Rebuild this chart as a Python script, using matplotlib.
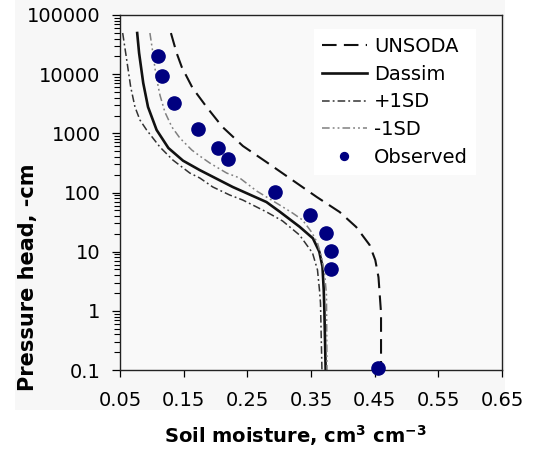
import matplotlib
matplotlib.use("Agg")
import matplotlib.pyplot as plt
from matplotlib.patches import Rectangle
from matplotlib.ticker import FixedLocator, FixedFormatter, LogLocator, NullFormatter

# Soil water retention data: volumetric moisture (cm3/cm3) vs pressure head (-cm)
obs_theta = [0.110, 0.116, 0.135, 0.172, 0.204, 0.220, 0.294, 0.349, 0.373, 0.382, 0.382, 0.456]
obs_h = [20300, 9300, 3200, 1170, 571, 364, 102, 41.7, 20.4, 10.3, 5.15, 0.11]

unsoda_theta = [0.130, 0.139, 0.147, 0.164, 0.186, 0.211, 0.243, 0.280, 0.316, 0.359,
                0.395, 0.421, 0.442, 0.451, 0.456, 0.460, 0.460]
unsoda_h = [49500, 22700, 13200, 5830, 2790, 1280, 611, 327, 176, 84,
            46.8, 26.1, 13, 7.2, 3.7, 0.92, 0.1]

dassim_theta = [0.077, 0.080, 0.0865, 0.094, 0.1075, 0.126, 0.149, 0.175, 0.227, 0.280,
                0.301, 0.332, 0.353, 0.363, 0.368, 0.370, 0.371, 0.373]
dassim_h = [49600, 22700, 7080, 2790, 1140, 565, 345, 240, 124, 69,
            47.3, 26.4, 16.8, 10, 5.6, 2.25, 1.03, 0.1]

plus_sd_theta = [0.0542, 0.0594, 0.0668, 0.0735, 0.0813, 0.0918, 0.1127, 0.133, 0.1597, 0.1753,
                 0.1957, 0.2223, 0.2427, 0.2803, 0.3054, 0.332, 0.3524, 0.3602, 0.3633, 0.3649, 0.3672]
plus_sd_h = [49600, 21100, 6070, 2790, 1680, 1140, 587, 354, 213, 176,
             124, 90.7, 74.7, 46.8, 33, 19.1, 9.5, 4.9, 2.25, 1.36, 0.1]

minus_sd_theta = [0.097, 0.1017, 0.1064, 0.1127, 0.1205, 0.1315, 0.144, 0.1628, 0.1753, 0.191,
                  0.2176, 0.238, 0.2646, 0.3007, 0.321, 0.3367, 0.3508, 0.3602, 0.3665, 0.3712,
                  0.3743, 0.3751]
minus_sd_h = [49600, 22700, 9680, 4450, 2290, 1280, 834, 522, 414, 315,
              213, 176, 106, 61.5, 45, 34.3, 21.5, 14, 8.1, 4.5,
              1.85, 0.1]

x_ticks = [0.05, 0.15, 0.25, 0.35, 0.45, 0.55, 0.65]
x_tick_labels = ["0.05", "0.15", "0.25", "0.35", "0.45", "0.55", "0.65"]
y_ticks = [0.1, 1, 10, 100, 1000, 10000, 100000]
y_tick_labels = ["0.1", "1", "10", "100", "1000", "10000", "100000"]

plt.rcParams["font.family"] = ["DejaVu Sans"]
plt.rcParams["mathtext.fontset"] = "dejavusans"

fig = plt.figure(figsize=(5.38, 4.55), dpi=100, facecolor="white")
fig.patches.append(Rectangle((15 / 538, 45 / 455), 490 / 538, 410 / 455,
                             transform=fig.transFigure, facecolor="#f7f7f7",
                             edgecolor="none", zorder=-10))
ax = fig.add_axes([120 / 538, 85 / 455, 382 / 538, 355 / 455])
ax.set_facecolor("#f9f9f9")

ax.plot(unsoda_theta, unsoda_h, color="#111111", lw=1.5, dashes=(7, 3.5), label="UNSODA")
ax.plot(dassim_theta, dassim_h, color="#111111", lw=1.9, label="Dassim")
ax.plot(plus_sd_theta, plus_sd_h, color="#333333", lw=1.1, dashes=(5, 2, 1.2, 2),
        label="+1SD")
ax.plot(minus_sd_theta, minus_sd_h, color="#808080", lw=1.1,
        dashes=(5, 2, 1.2, 2, 1.2, 2), label="-1SD")
ax.plot(obs_theta, obs_h, linestyle="none", marker="o", markersize=9.5,
        color="#000080", label="Observed", clip_on=False, zorder=5)

ax.set_yscale("log")
ax.set_xlim(0.05, 0.65)
ax.set_ylim(0.1, 100000)

ax.xaxis.set_major_locator(FixedLocator(x_ticks))
ax.xaxis.set_major_formatter(FixedFormatter(x_tick_labels))
ax.yaxis.set_major_locator(FixedLocator(y_ticks))
ax.yaxis.set_major_formatter(FixedFormatter(y_tick_labels))
ax.yaxis.set_minor_locator(LogLocator(base=10, subs=range(2, 10), numticks=20))
ax.yaxis.set_minor_formatter(NullFormatter())

ax.tick_params(axis="x", which="major", direction="out", length=5, width=0.9,
               labelsize=14, pad=10)
ax.tick_params(axis="y", which="major", direction="out", length=6, width=0.9,
               labelsize=14, pad=8)
ax.tick_params(axis="y", which="minor", direction="out", length=4, width=0.8)
for s in ax.spines.values():
    s.set_linewidth(1.0)
    s.set_color("#222222")

ax.set_xlabel(r"Soil moisture, cm$^\mathbf{3}$ cm$^\mathbf{-3}$",
              fontsize=14, fontweight="bold")
ax.xaxis.set_label_coords(0.46, -0.15)
ax.set_ylabel("Pressure head, -cm", fontsize=15, fontweight="bold")
ax.yaxis.set_label_coords(-0.215, 0.26)

leg = ax.legend(loc="upper left", bbox_to_anchor=(0.508, 0.96), fontsize=14,
                frameon=True, facecolor="white", edgecolor="none", framealpha=1,
                fancybox=False, handlelength=2.3, handletextpad=0.4,
                labelspacing=0.45, markerscale=0.6, borderaxespad=0)

fig.savefig("out.png", dpi=100, facecolor=fig.get_facecolor())
